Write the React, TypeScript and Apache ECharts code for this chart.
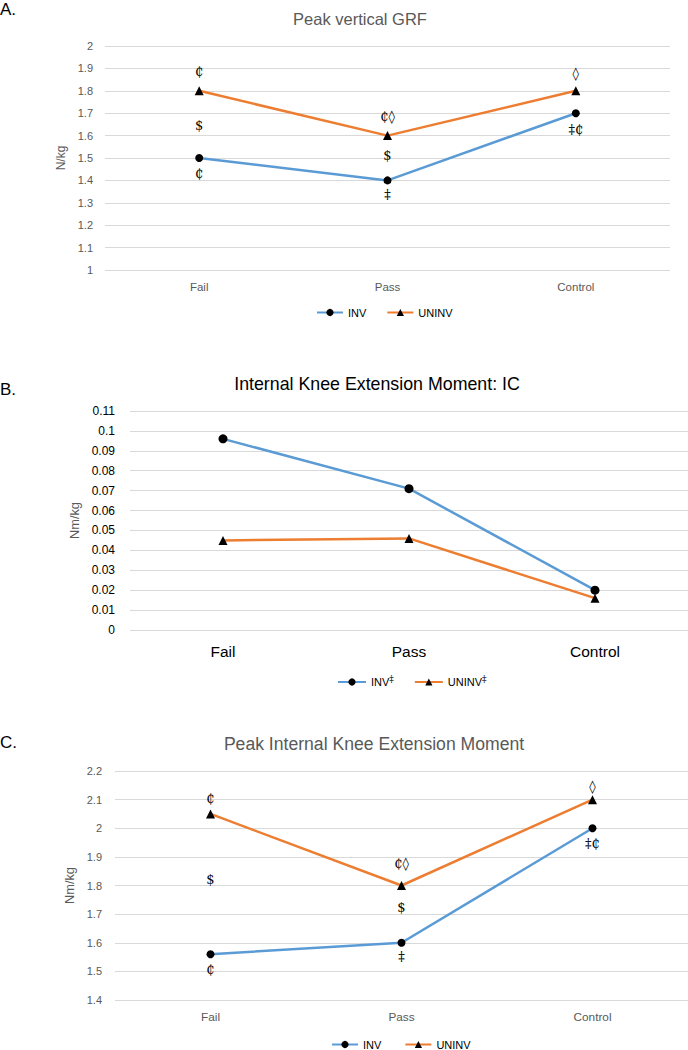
import React, { useEffect, useRef } from "react";
import * as echarts from "echarts";

// ---------- data ----------
const categories = ["Fail", "Pass", "Control"];

// A. Peak vertical GRF (N/kg)
const grfInv = [1.5, 1.4, 1.7];
const grfUninv = [1.8, 1.6, 1.8];
const grfAxis = { min: 1, max: 2, interval: 0.1 };
const grfNotes: [number, number, string][] = [
  [0, 1.885, "₵"],
  [0, 1.643, "$"],
  [0, 1.433, "₵"],
  [1, 1.684, "₵◊"],
  [1, 1.511, "$"],
  [1, 1.336, "‡"],
  [2, 1.877, "◊"],
  [2, 1.628, "‡₵"],
];

// B. Internal Knee Extension Moment: IC (Nm/kg)
const iceInv = [0.096, 0.071, 0.02];
const iceUninv = [0.045, 0.046, 0.016];
const iceAxis = { min: 0, max: 0.11, interval: 0.01 };

// C. Peak Internal Knee Extension Moment (Nm/kg)
const pkeInv = [1.56, 1.6, 2.0];
const pkeUninv = [2.05, 1.8, 2.1];
const pkeAxis = { min: 1.4, max: 2.2, interval: 0.1 };
const pkeNotes: [number, number, string][] = [
  [0, 2.105, "₵"],
  [0, 1.82, "$"],
  [0, 1.505, "₵"],
  [1, 1.878, "₵◊"],
  [1, 1.724, "$"],
  [1, 1.552, "‡"],
  [2, 2.145, "◊"],
  [2, 1.945, "‡₵"],
];

// ---------- styles ----------
const SANS = '"Liberation Sans", Arial, sans-serif';
const NOTE_FONT = '"DejaVu Serif", "DejaVu Sans", serif';
const BLUE = "#5B9BD5";
const ORANGE = "#ED7D31";
const GRID = "#d9d9d9";
const GRAY = "#595959";

const fmt = (v: number) => String(+v.toFixed(3));

function lineSeries(name: string, data: number[], idx: number, color: string, symbol: string, size: number) {
  return {
    name,
    type: "line",
    xAxisIndex: idx,
    yAxisIndex: idx,
    data,
    symbol,
    symbolSize: size,
    showAllSymbol: true,
    lineStyle: { color, width: 2.5 },
    itemStyle: { color: "#000" },
    emphasis: { disabled: true },
    z: 3,
  };
}

function noteSeries(notes: [number, number, string][], idx: number) {
  return {
    name: "notes" + idx,
    type: "custom",
    xAxisIndex: idx,
    yAxisIndex: idx,
    silent: true,
    data: notes.map(([c, y]) => [c, y]),
    renderItem: (params: any, api: any) => {
      const p = api.coord([api.value(0), api.value(1)]);
      const t = notes[params.dataIndex][2];
      return {
        type: "text",
        x: p[0],
        y: p[1],
        style: {
          text: t,
          fill: "#000",
          font: `13px ${NOTE_FONT}`,
          textAlign: "center",
          textVerticalAlign: "middle",
        },
      };
    },
    z: 4,
  };
}

function xAxis(idx: number, fontSize: number, color: string, margin: number) {
  return {
    type: "category",
    gridIndex: idx,
    data: categories,
    boundaryGap: true,
    axisLine: { show: false },
    axisTick: { show: false },
    axisLabel: { color, fontSize, fontFamily: SANS, margin },
  };
}

function yAxis(
  idx: number,
  range: { min: number; max: number; interval: number },
  name: string,
  fontSize: number,
  color: string,
  margin: number,
  nameGap: number,
  nameSize: number
) {
  return {
    type: "value",
    gridIndex: idx,
    min: range.min,
    max: range.max,
    interval: range.interval,
    name,
    nameLocation: "middle",
    nameGap,
    nameTextStyle: { color: GRAY, fontSize: nameSize, fontFamily: SANS },
    axisLine: { show: false },
    axisTick: { show: false },
    axisLabel: { color, fontSize, fontFamily: SANS, margin, formatter: fmt },
    splitLine: { show: true, lineStyle: { color: GRID, width: 1 } },
  };
}

function legend(names: string[], left: number, top: number, itemWidth: number, fontSize: number) {
  return {
    data: names,
    left,
    top,
    itemWidth,
    itemHeight: 9,
    itemGap: 20,
    selectedMode: false,
    textStyle: {
      color: "#000",
      fontSize,
      fontFamily: SANS,
      rich: {
        sup: { fontSize: 9, fontFamily: NOTE_FONT, verticalAlign: "top", padding: [0, 0, 7, 0], color: "#000" },
      },
    },
    formatter: (n: string) => n.replace("‡", "{sup|‡}"),
  };
}

function txt(text: string, x: number, y: number, size: number, color: string, align = "center") {
  return {
    type: "text",
    x,
    y,
    silent: true,
    style: {
      text,
      fill: color,
      font: `${size}px ${SANS}`,
      textAlign: align,
      textVerticalAlign: "middle",
    },
  };
}

export default function App() {
  const ref = useRef<HTMLDivElement>(null);
  useEffect(() => {
    if (!ref.current) return;
    const chart = echarts.init(ref.current, null, { renderer: "svg" });
    chart.setOption({
      animation: false,
      backgroundColor: "#fff",
      graphic: [
        txt("A.", 0, 9.5, 17, "#000", "left"),
        txt("Peak vertical GRF", 360, 19, 16.5, GRAY),
        txt("B.", 0, 389.5, 17, "#000", "left"),
        txt("Internal Knee Extension Moment: IC", 377, 384, 17.8, "#000"),
        txt("C.", 0, 742, 17, "#000", "left"),
        txt("Peak Internal Knee Extension Moment", 374, 744, 17.6, GRAY),
      ],
      grid: [
        { left: 105, top: 46, width: 565, height: 224 },
        { left: 130, top: 411, width: 558, height: 219 },
        { left: 115, top: 771, width: 573, height: 229 },
      ],
      xAxis: [xAxis(0, 11.5, GRAY, 11), xAxis(1, 15.5, "#000", 13), xAxis(2, 11.8, GRAY, 11)],
      yAxis: [
        yAxis(0, grfAxis, "N/kg", 11, GRAY, 12, 27, 12),
        yAxis(1, iceAxis, "Nm/kg", 12, "#000", 15, 36, 12.8),
        yAxis(2, pkeAxis, "Nm/kg", 11, GRAY, 13, 30, 12.8),
      ],
      legend: [
        legend(["INV", "UNINV"], 311, 302, 26, 11),
        legend(["INV‡", "UNINV‡"], 332, 669, 28, 11),
        legend(["INV ", "UNINV "], 326, 1034, 26, 11),
      ],
      series: [
        lineSeries("INV", grfInv, 0, BLUE, "circle", 8),
        lineSeries("UNINV", grfUninv, 0, ORANGE, "triangle", 9),
        noteSeries(grfNotes, 0),
        lineSeries("INV‡", iceInv, 1, BLUE, "circle", 9),
        lineSeries("UNINV‡", iceUninv, 1, ORANGE, "triangle", 9),
        lineSeries("INV ", pkeInv, 2, BLUE, "circle", 8),
        lineSeries("UNINV ", pkeUninv, 2, ORANGE, "triangle", 9),
        noteSeries(pkeNotes, 2),
      ],
    });
    return () => chart.dispose();
  }, []);
  return (
    <div
      ref={ref}
      style={{ position: "absolute", left: 0, top: 0, width: 688, height: 1050, background: "#fff" }}
    />
  );
}
